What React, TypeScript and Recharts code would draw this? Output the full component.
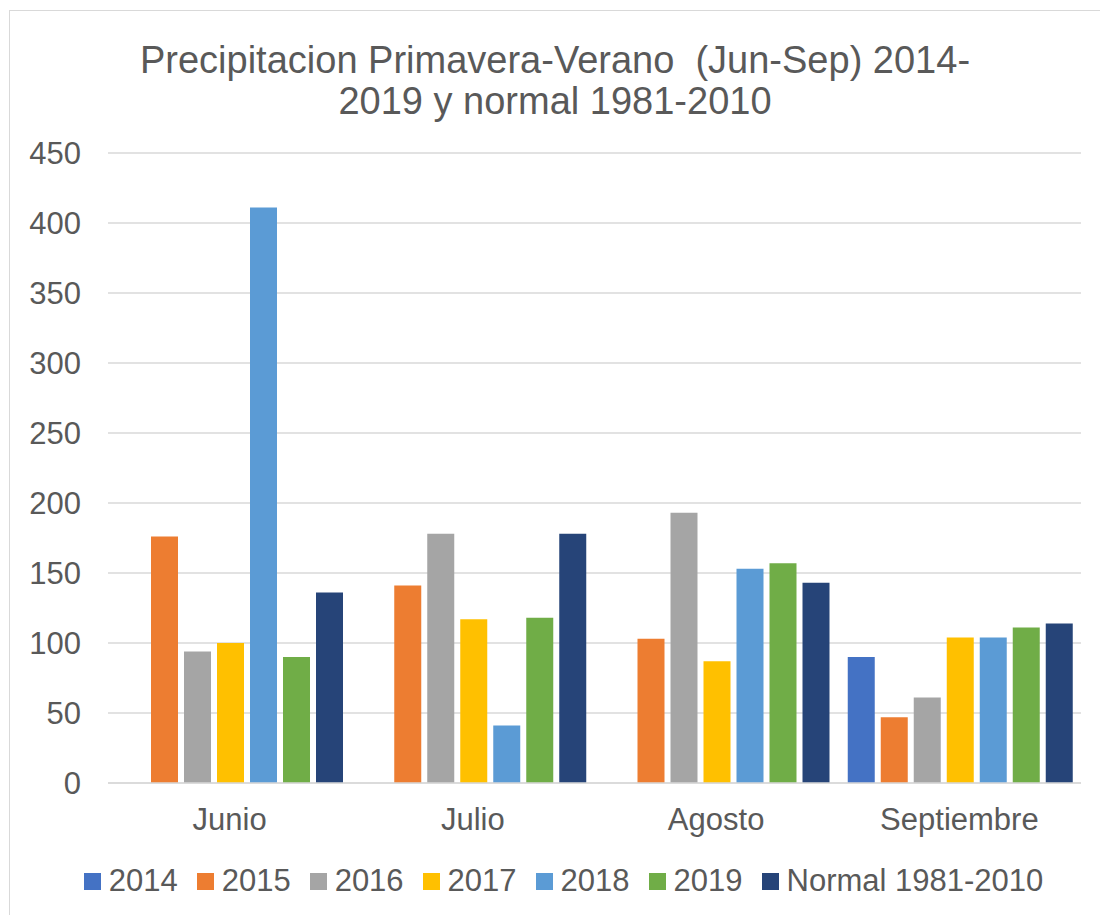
import { BarChart, Bar, XAxis, YAxis, CartesianGrid, Legend } from "recharts";

const months = ["Junio", "Julio", "Agosto", "Septiembre"];

const series = ["2014", "2015", "2016", "2017", "2018", "2019", "Normal 1981-2010"];
const colors = ["#4472C4", "#ED7D31", "#A5A5A5", "#FFC000", "#5B9BD5", "#70AD47", "#264478"];

const v2014 = [null, null, null, 90];
const v2015 = [176, 141, 103, 47];
const v2016 = [94, 178, 193, 61];
const v2017 = [100, 117, 87, 104];
const v2018 = [411, 41, 153, 104];
const v2019 = [90, 118, 157, 111];
const vNormal = [136, 178, 143, 114];

const yTicks = [0, 50, 100, 150, 200, 250, 300, 350, 400, 450];

const allValues = [v2014, v2015, v2016, v2017, v2018, v2019, vNormal];

const data = months.map((m, i) => {
  const row: Record<string, any> = { month: m };
  series.forEach((s, j) => {
    row[s] = allValues[j][i];
  });
  return row;
});

const FONT = "'Liberation Sans', Arial, sans-serif";
const TEXT = "#595959";

function LegendBox() {
  return (
    <div
      style={{
        display: "flex",
        justifyContent: "center",
        alignItems: "center",
        height: 40,
        fontFamily: FONT,
        fontSize: 31,
        color: TEXT,
        paddingLeft: 46,
      }}
    >
      {series.map((s, i) => (
        <div key={s} style={{ display: "flex", alignItems: "center", marginRight: i < series.length - 1 ? 19 : 0 }}>
          <span style={{ width: 17, height: 17, background: colors[i], display: "inline-block", marginRight: 8 }} />
          <span>{s}</span>
        </div>
      ))}
    </div>
  );
}

export default function App() {
  return (
    <div
      style={{
        position: "fixed",
        top: 0,
        left: 0,
        width: 1100,
        height: 915,
        overflow: "hidden",
        background: "#fff",
      }}
    >
      <div
        style={{
          position: "absolute",
          left: 9,
          top: 10,
          width: 1200,
          height: 1000,
          border: "1.5px solid #d9d9d9",
        }}
      />
      <div
        style={{
          position: "absolute",
          left: 0,
          top: 40,
          width: 1110,
          textAlign: "center",
          fontFamily: FONT,
          fontSize: 38,
          lineHeight: "41px",
          color: TEXT,
          whiteSpace: "pre",
        }}
      >
        {"Precipitacion Primavera-Verano  (Jun-Sep) 2014-\n2019 y normal 1981-2010"}
      </div>
      <div style={{ position: "absolute", left: 0, top: 0 }}>
        <BarChart
          width={1100}
          height={915}
          data={data}
          margin={{ top: 153, right: 19, bottom: 14, left: 0 }}
          barCategoryGap={10}
          barGap={6}
        >
          <CartesianGrid horizontal vertical={false} stroke="#d9d9d9" strokeWidth={1.5} />
          <XAxis
            dataKey="month"
            height={78}
            axisLine={{ stroke: "#d9d9d9", strokeWidth: 1.5 }}
            tickLine={false}
            tickSize={0}
            tickMargin={25}
            tick={{ fill: TEXT, fontSize: 31, fontFamily: FONT }}
            interval={0}
          />
          <YAxis
            width={108}
            domain={[0, 450]}
            ticks={yTicks}
            axisLine={false}
            tickLine={false}
            tickSize={0}
            tickMargin={27}
            tick={{ fill: TEXT, fontSize: 31, fontFamily: FONT }}
            interval={0}
          />
          <Legend verticalAlign="bottom" content={() => <LegendBox />} />
          {series.map((s, i) => (
            <Bar key={s} dataKey={s} fill={colors[i]} isAnimationActive={false} />
          ))}
        </BarChart>
      </div>
    </div>
  );
}
